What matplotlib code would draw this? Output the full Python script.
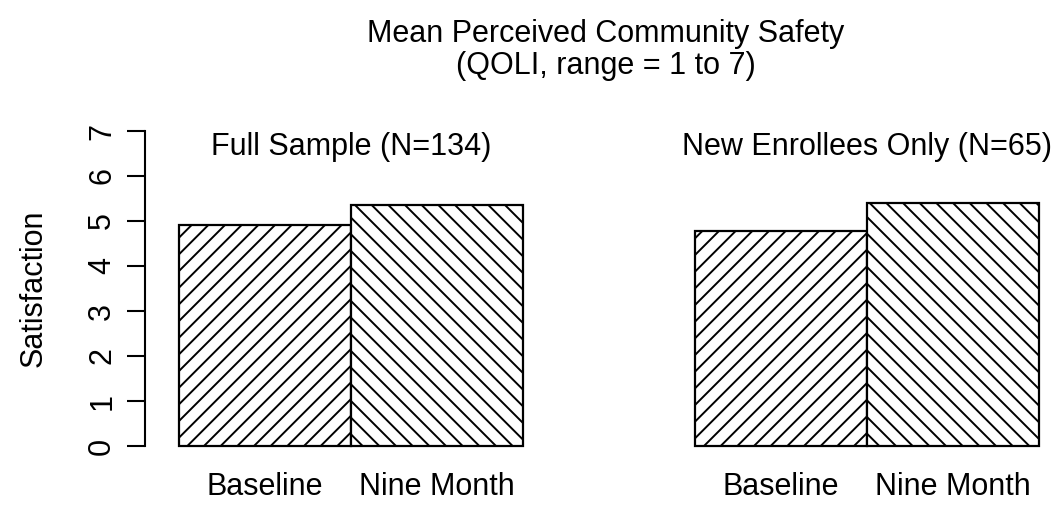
import matplotlib
matplotlib.use("Agg")
import matplotlib.pyplot as plt
import numpy as np

# ---- data ----
periods = ["Baseline", "Nine Month"]
panel_titles = ["Full Sample (N=134)", "New Enrollees Only (N=65)"]
full_sample = [4.91, 5.36]
new_enrollees = [4.78, 5.39]
hatches = ["//", "\\\\"]

plt.rcParams['font.family'] = ['Liberation Sans', 'DejaVu Sans']
plt.rcParams['hatch.linewidth'] = 1.4

W, H = 1057, 520
fig = plt.figure(figsize=(W / 100, H / 100), dpi=100)

# axes placement in pixels (left, top, right, bottom)
def px_axes(l, t, r, b):
    return fig.add_axes([l / W, 1 - b / H, (r - l) / W, (b - t) / H])

ax1 = px_axes(145, 118.4, 557, 458.6)
ax2 = px_axes(661, 118.4, 1073, 458.6)

for ax, vals, title, show_y in [(ax1, full_sample, panel_titles[0], True),
                                (ax2, new_enrollees, panel_titles[1], False)]:
    x = np.arange(len(vals))
    for i, v in enumerate(vals):
        ax.bar(x[i], v, width=1, align='edge', color='white', edgecolor='black',
               linewidth=1.6, hatch=hatches[i])
    ax.set_xlim(-0.198, 2.198)
    ax.set_ylim(-0.28, 7.28)
    for s in ['top', 'right', 'bottom']:
        ax.spines[s].set_visible(False)
    ax.set_xticks(x + 0.5)
    ax.set_xticklabels(periods, fontsize=22)
    ax.tick_params(axis='x', length=0, pad=10)
    ax.text(1, 6.64, title, ha='center', va='center', fontsize=22)
    if show_y:
        ax.spines['left'].set_bounds(0, 7)
        ax.spines['left'].set_linewidth(1.5)
        ax.set_yticks(range(0, 8))
        ax.tick_params(axis='y', length=13, width=1.5, pad=7, labelsize=22)
        for lab in ax.get_yticklabels():
            lab.set_rotation(90)
            lab.set_va('center')
        ax.set_ylabel("Satisfaction", fontsize=22, va='center')
        ax.yaxis.set_label_coords((34 - 145) / 412, 0.5)
    else:
        ax.spines['left'].set_visible(False)
        ax.set_yticks([])

fig.text(606 / W, 1 - 50 / H, "Mean Perceived Community Safety\n(QOLI, range = 1 to 7)",
         ha='center', va='center', fontsize=22, linespacing=1.08)

fig.savefig("out.png", dpi=100)
